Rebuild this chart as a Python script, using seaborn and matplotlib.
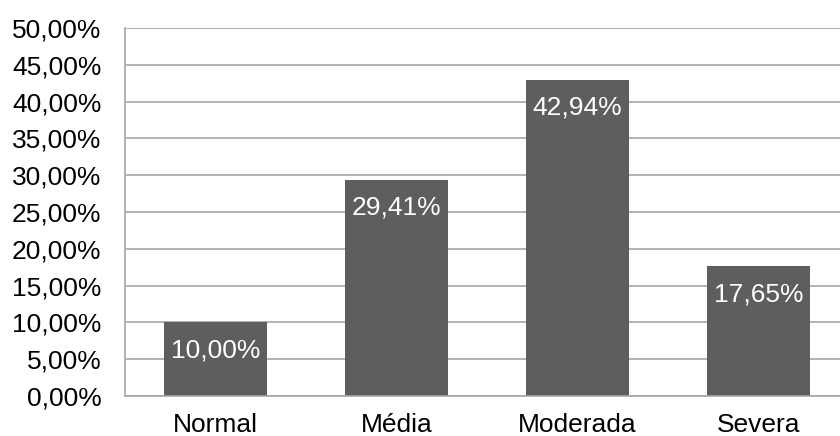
import matplotlib
matplotlib.use("Agg")
import matplotlib.pyplot as plt
import seaborn as sns
import pandas as pd

categories = ["Normal", "Média", "Moderada", "Severa"]
values = [10.00, 29.41, 42.94, 17.65]
yticks = [0, 5, 10, 15, 20, 25, 30, 35, 40, 45, 50]

sns.set_theme(style="white")
plt.rcParams["font.family"] = ["Liberation Sans", "DejaVu Sans"]

df = pd.DataFrame({"cat": categories, "val": values})

fig = plt.figure(figsize=(8.4, 4.36), dpi=100)
ax = fig.add_axes([125 / 840, 40 / 436, 724 / 840, 368 / 436])
sns.barplot(data=df, x="cat", y="val", color="#5e5e5e", saturation=1, width=0.57, ax=ax)
for p in ax.patches:
    p.set_edgecolor("none")

FS = 19
ax.set_ylim(0, 50)
ax.set_xlim(-0.5, 3.5)
ax.set_yticks(yticks)
ax.set_yticklabels([f"{t:.2f}".replace(".", ",") + "%" for t in yticks], fontsize=FS, color="black")
ax.set_xticklabels(categories, fontsize=FS, color="black")
ax.set_xlabel("")
ax.set_ylabel("")
ax.yaxis.grid(True, color="#a6a6a6", linewidth=1.2)
ax.set_axisbelow(True)
for s in ["top", "right"]:
    ax.spines[s].set_visible(False)
for s in ["left", "bottom"]:
    ax.spines[s].set_color("#a6a6a6")
    ax.spines[s].set_linewidth(1.2)
ax.tick_params(axis="both", length=0)
ax.tick_params(axis="y", pad=17)
ax.tick_params(axis="x", pad=12)

for i, v in enumerate(values):
    ax.annotate(f"{v:.2f}".replace(".", ",") + "%", xy=(i, v), xytext=(0, -28),
                textcoords="offset pixels", ha="center", va="center",
                color="white", fontsize=FS)

fig.savefig("out.png", dpi=100)
